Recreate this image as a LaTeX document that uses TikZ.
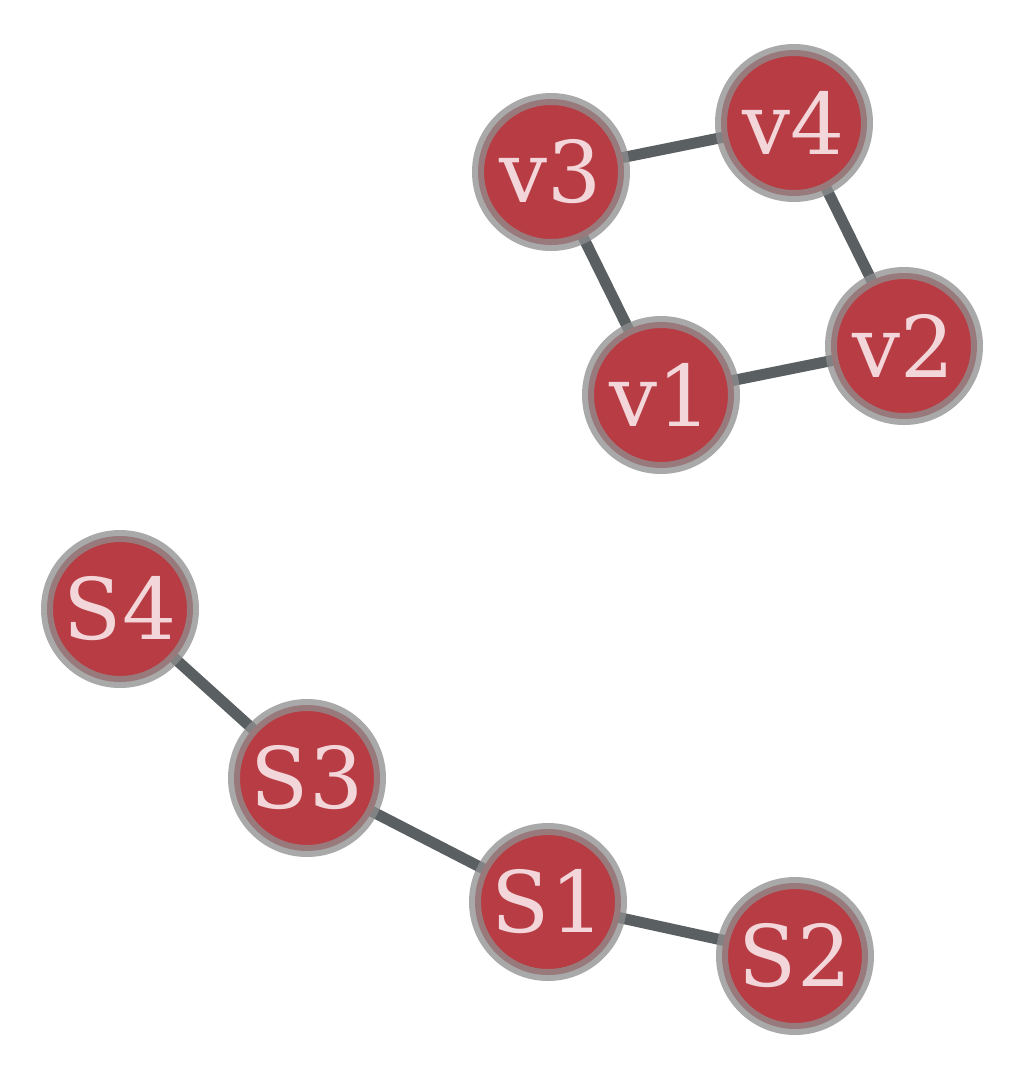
\documentclass[tikz,border=0pt]{standalone}
\usepackage{fontspec}
\setmainfont{DejaVu Serif}
\usetikzlibrary{backgrounds}
\definecolor{nodered}{HTML}{B83C43}
\definecolor{nodering}{HTML}{8E8E8E}
\definecolor{nodetext}{HTML}{F2D6D9}
\definecolor{edgegray}{HTML}{5A5F61}
\tikzset{
	vert/.style={circle, fill=nodered, draw=nodering, draw opacity=0.76, line width=12pt, minimum size=146pt, inner sep=0pt, text=nodetext, font=\fontsize{85}{85}\selectfont},
	link/.style={line width=11pt, color=edgegray}
}

\begin{document}
\begin{tikzpicture}[x=1pt, y=-1pt]
		%%%%% START %%%%%
		
		\useasboundingbox (0, 0) rectangle (1024, 1080);
		
		\node[vert] (v3) at (551, 172) {v3};
		\node[vert] (v4) at (794, 123) {v4};
		\node[vert] (v2) at (904, 346) {v2};
		\node[vert] (v1) at (661, 395) {v1};
		
		\node[vert] (S4) at (120, 609) {S4};
		\node[vert] (S3) at (307, 778) {S3};
		\node[vert] (S1) at (548, 902) {S1};
		\node[vert] (S2) at (795, 956) {S2};
		
		\begin{scope}[on background layer]
			\draw[link] (v3.center) -- (v4.center) -- (v2.center) -- (v1.center) -- (v3.center);
			\draw[link] (S4.center) -- (S3.center) -- (S1.center) -- (S2.center);
		\end{scope}
		
		%%%%% END %%%%%
	\end{tikzpicture}
\end{document}
